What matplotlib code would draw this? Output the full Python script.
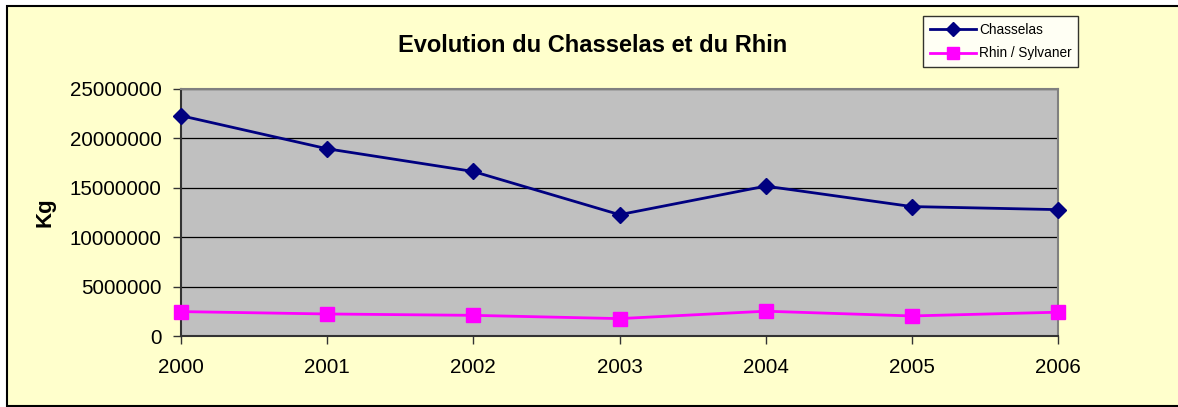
import numpy as np
import matplotlib
matplotlib.use('Agg')
from matplotlib import pyplot as plt
from matplotlib.patches import Rectangle

plt.rcParams['font.family'] = ['Liberation Sans', 'DejaVu Sans']

# data
years = ['2000', '2001', '2002', '2003', '2004', '2005', '2006']
chasselas = [22300000, 18950000, 16650000, 12280000, 15170000, 13100000, 12790000]
rhin = [2470000, 2230000, 2090000, 1760000, 2510000, 2030000, 2410000]
yticks = [0, 5000000, 10000000, 15000000, 20000000, 25000000]

W, H = 1178, 407
fig = plt.figure(figsize=(W / 100, H / 100), dpi=100)
fig.patch.set_facecolor('white')

# chart area (yellow box with black frame)
frame = Rectangle((7 / W, 1 - 406 / H), 1.2, 400 / H,
                  transform=fig.transFigure, facecolor='#FFFFCC',
                  edgecolor='black', linewidth=1.5, zorder=-1)
fig.add_artist(frame)

ax = fig.add_axes([181 / W, 1 - 336 / H, 877 / W, 247 / H])
ax.set_zorder(1)
ax.set_facecolor('#C0C0C0')

x = np.arange(len(years))
ax.plot(x, chasselas, color='#000080', marker='D', markersize=8, linewidth=2,
        label='Chasselas', clip_on=False, zorder=3)
ax.plot(x, rhin, color='#FF00FF', marker='s', markersize=10, linewidth=2,
        label='Rhin / Sylvaner', clip_on=False, zorder=3)

ax.set_xlim(0, len(years) - 1)
ax.set_ylim(0, 25000000)
ax.set_xticks(x)
ax.set_xticklabels(years)
ax.set_yticks(yticks)
ax.set_yticklabels([str(v) for v in yticks])
ax.yaxis.grid(True, color='black', linewidth=0.9)
ax.set_axisbelow(True)

for s in ['top', 'right']:
    ax.spines[s].set_color('#808080')
    ax.spines[s].set_linewidth(1.5)
for s in ['left', 'bottom']:
    ax.spines[s].set_color('#333333')
    ax.spines[s].set_linewidth(1.5)

ax.tick_params(axis='both', direction='out', length=6, width=1,
               color='#333333', labelsize=14.8, pad=8)
ax.tick_params(axis='x', pad=10)

ax.set_ylabel('Kg', fontsize=16, fontweight='bold', labelpad=10)
fig.text(593 / W, 1 - 46 / H, 'Evolution du Chasselas et du Rhin',
         ha='center', va='center', fontsize=17, fontweight='bold')

leg = fig.legend(loc='upper left', bbox_to_anchor=(923 / W, 1 - 16 / H),
                 fontsize=9.8, frameon=True, fancybox=False, borderpad=0.5,
                 handlelength=3.4, handletextpad=0.2, labelspacing=0.7,
                 borderaxespad=0, markerscale=0.9)
leg.get_frame().set_edgecolor('black')
leg.get_frame().set_linewidth(1)
leg.get_frame().set_facecolor('white')
leg.set_zorder(5)

fig.savefig('out.png', dpi=100)
